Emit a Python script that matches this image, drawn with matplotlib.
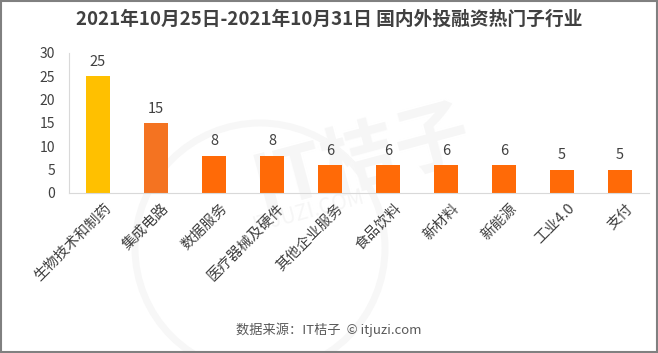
import matplotlib.pyplot as plt
from matplotlib.patches import Rectangle, Circle

plt.rcParams['font.family'] = ['Noto Sans CJK SC', 'DejaVu Sans']

categories = ['生物技术和制药', '集成电路', '数据服务', '医疗器械及硬件', '其他企业服务',
              '食品饮料', '新材料', '新能源', '工业4.0', '支付']
values = [25, 15, 8, 8, 6, 6, 6, 6, 5, 5]
colors = ['#FFC000', '#F47321'] + ['#FF6A07'] * 8

fig = plt.figure(figsize=(6.58, 3.53), dpi=100)
ax = fig.add_axes([69/658, 1 - 193/353, 580/658, 140/353])
ax.set_zorder(2)

# faint watermark behind the chart
fig.text(0.55, 0.55, 'IT桔子', fontsize=54, color='#F6F6F6', ha='center', va='center',
         rotation=15, zorder=-2, fontweight='bold')
fig.text(0.47, 0.40, 'ITJUZI.COM', fontsize=15, color='#F6F6F6', ha='center', va='center',
         rotation=15, zorder=-2)
fig.patches.append(Circle((2.6, 1.05), 1.25, transform=fig.dpi_scale_trans, fill=False,
                          ec='#F7F7F7', lw=5, zorder=-2))

x = range(len(categories))
bars = ax.bar(x, values, width=0.41, color=colors, zorder=2)
for b, v in zip(bars, values):
    ax.text(b.get_x() + b.get_width() / 2, v + 1.6, str(v), ha='center', va='bottom',
            fontsize=10.5, color='#404040')

ax.set_xlim(-0.5, 9.5)
ax.set_ylim(0, 30)
ax.set_yticks([0, 5, 10, 15, 20, 25, 30])
ax.set_xticks([i + 0.1 for i in x])
ax.set_xticklabels(categories, rotation=45, ha='right', rotation_mode='anchor',
                   fontsize=10.5, color='#404040')
ax.tick_params(axis='y', length=0, labelsize=10, labelcolor='#404040', pad=10)
ax.tick_params(axis='x', length=0, pad=6)
ax.patch.set_alpha(0)
for s in ['top', 'right']:
    ax.spines[s].set_visible(False)
ax.spines['left'].set_color('#D9D9D9')
ax.spines['bottom'].set_color('#D9D9D9')

fig.text(0.5, 1 - 19/353, '2021年10月25日-2021年10月31日 国内外投融资热门子行业',
         ha='center', va='center', fontsize=13.5, fontweight='bold', color='#404040')
fig.text(0.5, 1 - 330/353, '数据来源：IT桔子  © itjuzi.com', ha='center', va='center',
         fontsize=9.5, color='#595959')

fig.patches.append(Rectangle((0.001, 0.003), 0.997, 0.994, transform=fig.transFigure,
                             fill=False, ec='#808080', lw=1.5))

fig.savefig('out.png', dpi=100)
